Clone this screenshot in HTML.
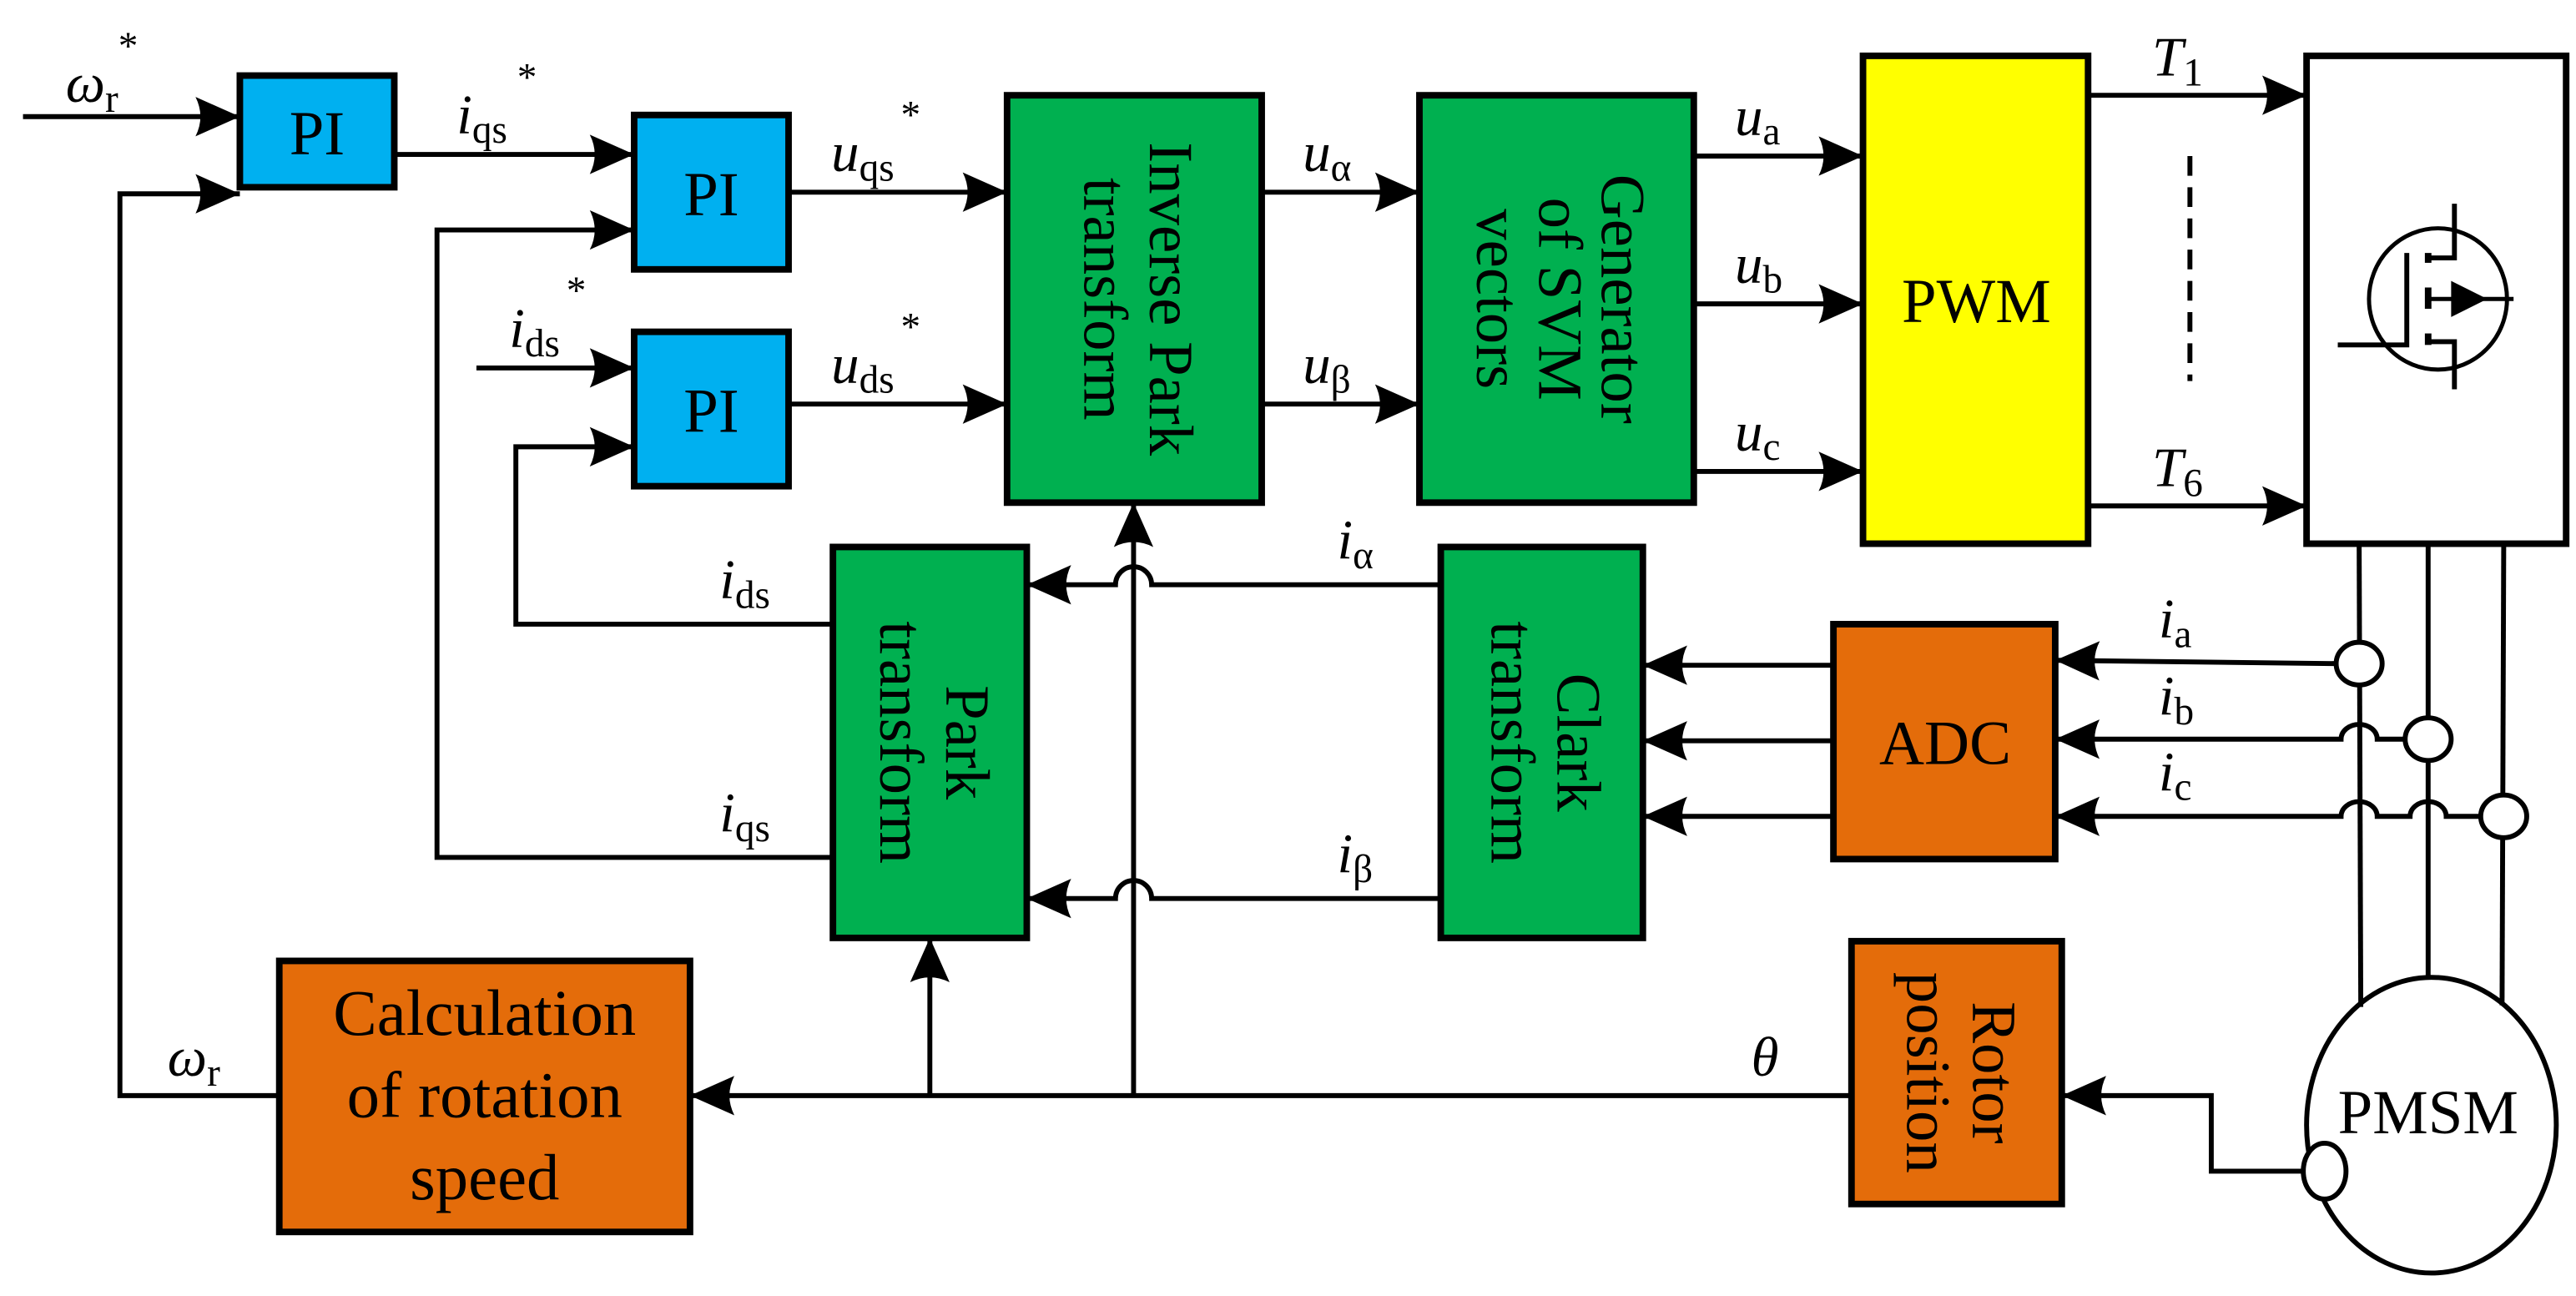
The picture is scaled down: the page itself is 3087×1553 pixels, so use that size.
<!DOCTYPE html>
<html><head><meta charset="utf-8"><style>
html,body{margin:0;padding:0;background:#fff;}
svg{display:block;}
text{font-family:"Liberation Serif","Times New Roman",serif;fill:#000;}
.it{font-style:italic;}
</style></head><body>
<svg width="3087" height="1553" viewBox="0 0 1568 789" preserveAspectRatio="none" xmlns="http://www.w3.org/2000/svg" font-family="Liberation Serif, serif">
<defs>
<marker id="a" markerUnits="userSpaceOnUse" markerWidth="32" markerHeight="28" viewBox="-30 -14 32 28" refX="0" refY="0" orient="auto">
<path d="M0,0 L-27,-12 Q-21,0 -27,12 Z" fill="#000"/>
</marker>
</defs>
<g fill="none" stroke="#000" stroke-width="3">
<rect x="146" y="46" width="94" height="68" fill="#00B0F0" stroke-width="4"/>
<rect x="386" y="70" width="94" height="94" fill="#00B0F0" stroke-width="4"/>
<rect x="386" y="202" width="94" height="94" fill="#00B0F0" stroke-width="4"/>
<rect x="613" y="58" width="155" height="248" fill="#00B050" stroke-width="4"/>
<rect x="864" y="58" width="167" height="248" fill="#00B050" stroke-width="4"/>
<rect x="1134" y="34" width="137" height="297" fill="#FFFF00" stroke-width="4"/>
<rect x="1404" y="34" width="158" height="297" fill="#fff" stroke-width="4"/>
<rect x="507" y="333" width="118" height="238" fill="#00B050" stroke-width="4"/>
<rect x="877" y="333" width="123" height="238" fill="#00B050" stroke-width="4"/>
<rect x="1116" y="380" width="135" height="143" fill="#E46C0A" stroke-width="4"/>
<rect x="170" y="585" width="250" height="165" fill="#E46C0A" stroke-width="4"/>
<rect x="1127" y="573" width="128" height="160" fill="#E46C0A" stroke-width="4"/>
<ellipse cx="1480" cy="685" rx="76" ry="90" fill="#fff"/>

<line x1="14" y1="71" x2="146" y2="71" marker-end="url(#a)"/>
<polyline points="170,667 73,667 73,118 146,118" marker-end="url(#a)"/>
<line x1="240" y1="94" x2="386" y2="94" marker-end="url(#a)"/>
<polyline points="507,522 266,522 266,140 386,140" marker-end="url(#a)"/>
<line x1="290" y1="224" x2="386" y2="224" marker-end="url(#a)"/>
<polyline points="507,380 314,380 314,272 386,272" marker-end="url(#a)"/>
<line x1="480" y1="117" x2="613" y2="117" marker-end="url(#a)"/>
<line x1="480" y1="246" x2="613" y2="246" marker-end="url(#a)"/>
<line x1="768" y1="117" x2="864" y2="117" marker-end="url(#a)"/>
<line x1="768" y1="246" x2="864" y2="246" marker-end="url(#a)"/>
<line x1="1031" y1="95" x2="1134" y2="95" marker-end="url(#a)"/>
<line x1="1031" y1="185" x2="1134" y2="185" marker-end="url(#a)"/>
<line x1="1031" y1="287" x2="1134" y2="287" marker-end="url(#a)"/>
<line x1="1271" y1="58" x2="1404" y2="58" marker-end="url(#a)"/>
<line x1="1271" y1="308" x2="1404" y2="308" marker-end="url(#a)"/>
<line x1="1333" y1="95" x2="1333" y2="232" stroke-dasharray="12,7"/>

<line x1="1436" y1="331" x2="1437" y2="613"/>
<line x1="1478" y1="331" x2="1478" y2="596"/>
<line x1="1524" y1="331" x2="1523" y2="612"/>
<ellipse cx="1436" cy="404" rx="14" ry="13" fill="#fff"/>
<ellipse cx="1478" cy="450" rx="14" ry="13" fill="#fff"/>
<ellipse cx="1524" cy="497" rx="14" ry="13" fill="#fff"/>
<path d="M1422,404 L1251,402" marker-end="url(#a)"/>
<path d="M1464,450 L1447,450 A11,9 0 0 0 1425,450 L1251,450" marker-end="url(#a)"/>
<path d="M1510,497 L1489,497 A11,9 0 0 0 1467,497 L1447,497 A11,9 0 0 0 1425,497 L1251,497" marker-end="url(#a)"/>
<line x1="1116" y1="405" x2="1000" y2="405" marker-end="url(#a)"/>
<line x1="1116" y1="451" x2="1000" y2="451" marker-end="url(#a)"/>
<line x1="1116" y1="497" x2="1000" y2="497" marker-end="url(#a)"/>
<path d="M877,356 L701,356 A11,11 0 0 0 679,356 L625,356" marker-end="url(#a)"/>
<path d="M877,547 L701,547 A11,11 0 0 0 679,547 L625,547" marker-end="url(#a)"/>

<line x1="1127" y1="667" x2="420" y2="667" marker-end="url(#a)"/>
<line x1="566" y1="667" x2="566" y2="571" marker-end="url(#a)"/>
<line x1="690" y1="667" x2="690" y2="306" marker-end="url(#a)"/>
<ellipse cx="1415" cy="713" rx="13" ry="17" fill="#fff"/>
<polyline points="1402,713 1346,713 1346,667 1255,667" marker-end="url(#a)"/>

<ellipse cx="1484" cy="182" rx="42" ry="43" stroke-width="2.5"/>
<polyline points="1423,210 1465,210 1465,154" stroke-width="3"/>
<line x1="1478" y1="154" x2="1478" y2="160" stroke-width="4"/>
<line x1="1478" y1="175" x2="1478" y2="188" stroke-width="4"/>
<line x1="1478" y1="203" x2="1478" y2="210" stroke-width="4"/>
<polyline points="1478,157 1494,157 1494,124" stroke-width="3"/>
<polyline points="1478,208 1494,208 1494,237" stroke-width="3"/>
<line x1="1478" y1="182" x2="1530" y2="182" stroke-width="2.5"/>
</g>
<polygon points="1492,171 1514,182 1492,193" fill="#000"/>

<g font-size="38" text-anchor="middle">
<text x="193" y="94">PI</text>
<text x="433" y="131">PI</text>
<text x="433" y="263">PI</text>
<text x="1203" y="196">PWM</text>
<text x="1184" y="465">ADC</text>
<text x="1478" y="690">PMSM</text>
<text x="295" y="630" font-size="40">Calculation</text>
<text x="295" y="680" font-size="40">of rotation</text>
<text x="295" y="730" font-size="40">speed</text>
<g transform="translate(690,182) rotate(90)"><text x="0" y="-10">Inverse Park</text><text x="0" y="30">transform</text></g>
<g transform="translate(947,182) rotate(90)"><text x="0" y="-28">Generator</text><text x="0" y="10">of SVM</text><text x="0" y="48">vectors</text></g>
<g transform="translate(566,452) rotate(90)"><text x="0" y="-10">Park</text><text x="0" y="30">transform</text></g>
<g transform="translate(938,452) rotate(90)"><text x="0" y="-10">Clark</text><text x="0" y="30">transform</text></g>
<g transform="translate(1191,653) rotate(90)"><text x="0" y="-10">Rotor</text><text x="0" y="30">position</text></g>
</g>

<g font-size="34">
<text x="40" y="62" class="it">ω<tspan font-size="24" font-style="normal" dy="6">r</tspan><tspan font-size="24" font-style="normal" dy="-32">*</tspan></text>
<text x="278" y="81" class="it">i<tspan font-size="24" font-style="normal" dy="6">qs</tspan><tspan font-size="24" font-style="normal" dy="-32" dx="6">*</tspan></text>
<text x="506" y="104" class="it">u<tspan font-size="24" font-style="normal" dy="6">qs</tspan><tspan font-size="24" font-style="normal" dy="-32" dx="4">*</tspan></text>
<text x="310" y="211" class="it">i<tspan font-size="24" font-style="normal" dy="6">ds</tspan><tspan font-size="24" font-style="normal" dy="-32" dx="4">*</tspan></text>
<text x="506" y="233" class="it">u<tspan font-size="24" font-style="normal" dy="6">ds</tspan><tspan font-size="24" font-style="normal" dy="-32" dx="4">*</tspan></text>
<text x="793" y="104" class="it">u<tspan font-size="24" font-style="normal" dy="6">α</tspan></text>
<text x="793" y="233" class="it">u<tspan font-size="24" font-style="normal" dy="6">β</tspan></text>
<text x="1056" y="82" class="it">u<tspan font-size="24" font-style="normal" dy="6">a</tspan></text>
<text x="1056" y="172" class="it">u<tspan font-size="24" font-style="normal" dy="6">b</tspan></text>
<text x="1056" y="274" class="it">u<tspan font-size="24" font-style="normal" dy="6">c</tspan></text>
<text x="1310" y="46" class="it">T<tspan font-size="24" font-style="normal" dy="6">1</tspan></text>
<text x="1310" y="296" class="it">T<tspan font-size="24" font-style="normal" dy="6">6</tspan></text>
<text x="438" y="364" class="it">i<tspan font-size="24" font-style="normal" dy="6">ds</tspan></text>
<text x="438" y="506" class="it">i<tspan font-size="24" font-style="normal" dy="6">qs</tspan></text>
<text x="814" y="340" class="it">i<tspan font-size="24" font-style="normal" dy="6">α</tspan></text>
<text x="814" y="531" class="it">i<tspan font-size="24" font-style="normal" dy="6">β</tspan></text>
<text x="1314" y="388" class="it">i<tspan font-size="24" font-style="normal" dy="6">a</tspan></text>
<text x="1314" y="435" class="it">i<tspan font-size="24" font-style="normal" dy="6">b</tspan></text>
<text x="1314" y="481" class="it">i<tspan font-size="24" font-style="normal" dy="6">c</tspan></text>
<text x="102" y="655" class="it">ω<tspan font-size="24" font-style="normal" dy="6">r</tspan></text>
<text x="1066" y="655" class="it">θ</text>
</g>
</svg>
</body></html>
